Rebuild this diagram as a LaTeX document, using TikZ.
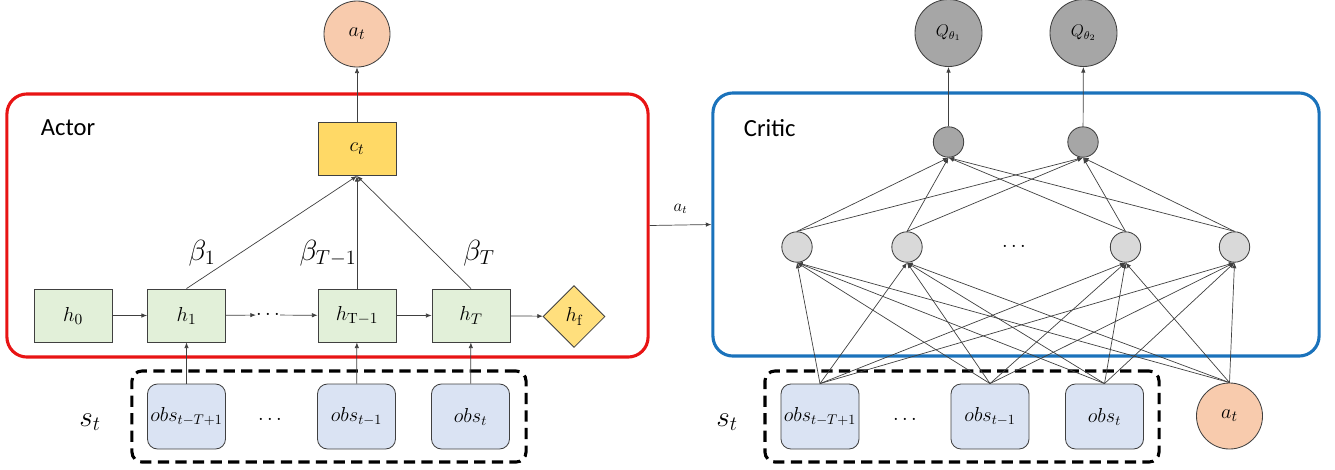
\documentclass[tikz,border=0pt]{standalone}
\usepackage{fontspec}
\setsansfont{Carlito}
\usetikzlibrary{arrows.meta,shapes.geometric}

\definecolor{hgreen}{HTML}{E2F0D9}
\definecolor{cyellow}{HTML}{FFD966}
\definecolor{obsblue}{HTML}{DAE3F3}
\definecolor{aorange}{HTML}{F8CBAD}
\definecolor{actorred}{HTML}{E81414}
\definecolor{criticblue}{HTML}{1A72BB}
\definecolor{qgray}{HTML}{A6A6A6}
\definecolor{ngray}{HTML}{D9D9D9}
\definecolor{edgegray}{HTML}{404040}

\begin{document}
\begin{tikzpicture}[x=0.025cm, y=-0.025cm, >={Latex[length=1.4mm,width=1.1mm]},
        hbox/.style={draw=edgegray, fill=hgreen, line width=0.6pt, inner sep=0pt,
            minimum width=1.95cm, minimum height=1.325cm, font=\fontsize{15}{17}\selectfont},
        obsbox/.style={draw=edgegray, fill=obsblue, line width=0.6pt, inner sep=0pt,
            rounded corners=0.25cm, minimum width=1.95cm, minimum height=1.625cm,
            font=\fontsize{14.5}{16}\selectfont},
        actnode/.style={circle, draw=edgegray, fill=aorange, line width=0.6pt, inner sep=0pt,
            minimum size=1.65cm, font=\fontsize{15}{17}\selectfont},
        qnode/.style={circle, draw=edgegray, fill=qgray, line width=0.6pt, inner sep=0pt,
            minimum size=1.675cm, font=\fontsize{12}{14}\selectfont},
        darkunit/.style={circle, draw=edgegray, fill=qgray, line width=0.6pt, minimum size=0.76cm},
        lightunit/.style={circle, draw=edgegray, fill=ngray, line width=0.6pt, minimum size=0.76cm},
        panel/.style={rounded corners=0.5cm, line width=2.2pt},
        window/.style={draw=black, rounded corners=0.25cm, line width=2.2pt,
            dash pattern=on 8pt off 4.5pt, minimum width=9.85cm, minimum height=2.275cm},
        conn/.style={->, draw=edgegray, line width=0.5pt},
        big/.style={font=\fontsize{20}{22}\selectfont},
        huge/.style={font=\fontsize{22}{24}\selectfont},
        dotsnode/.style={inner sep=0pt, font=\fontsize{15}{17}\selectfont}]

        \useasboundingbox (0,0) rectangle (1335,469);

        % the two boxes
        \node[panel, draw=actorred, minimum width=16.025cm, minimum height=6.575cm]
            (actor) at (327.5,225.5) {};
        \node[panel, draw=criticblue, minimum width=15.15cm, minimum height=6.575cm]
            (critic) at (1016,224.5) {};
        \node[anchor=west, font=\sffamily\fontsize{17.5}{20}\selectfont] (actorlbl) at (36,128) {Actor};
        \node[anchor=west, font=\sffamily\fontsize{17.5}{20}\selectfont] (criticlbl) at (739,128) {Critic};

        % actor
        \node[actnode] (at) at (357,34) {$a_t$};
        \node[hbox, fill=cyellow] (ct) at (357,149) {$c_t$};
        \node[hbox] (h0)  at (73,315.5)  {$h_0$};
        \node[hbox] (h1)  at (186.5,315.5) {$h_1$};
        \node[dotsnode] (hdots) at (268,315) {$\cdots$};
        \node[hbox] (hTm) at (357,315.5) {$h_{\mathrm{T}-1}$};
        \node[hbox] (hT)  at (471,315.5) {$h_T$};
        \node[diamond, draw=edgegray, fill=cyellow!85!white, line width=0.6pt, inner sep=0pt,
            minimum size=1.55cm, font=\fontsize{15}{17}\selectfont] (hf) at (574,316.5) {$h_{\mathrm{f}}$};

        \node[big] (b1)  at (202,253) {$\beta_1$};
        \node[big] (bTm) at (328,253) {$\beta_{T-1}$};
        \node[big] (bT)  at (479,253) {$\beta_T$};

        \draw[conn] (h0) -- (h1);
        \draw[conn] (h1) -- (hdots);
        \draw[conn] (hdots) -- (hTm);
        \draw[conn] (hTm) -- (hT);
        \draw[conn] (hT) -- (hf);
        \draw[conn] (h1.north)  -- (ct.south);
        \draw[conn] (hTm.north) -- (ct.south);
        \draw[conn] (hT.north)  -- (ct.south);
        \draw[conn] (ct) -- (at);

        % actor input window
        \node[window] (winA) at (329,416.5) {};
        \node[huge] (stA) at (90,422) {$s_t$};
        \node[obsbox] (o1) at (186.5,416.5) {$obs_{t-T+1}$};
        \node[dotsnode] (odotsA) at (270,420) {$\cdots$};
        \node[obsbox] (o2) at (356.5,416.5) {$obs_{t-1}$};
        \node[obsbox] (o3) at (470.5,416.5) {$obs_t$};
        \draw[conn] (o1) -- (h1);
        \draw[conn] (o2) -- (hTm);
        \draw[conn] (o3) -- (hT);

        % action passed to the critic
        \draw[conn] (actor.east) -- node[above=1.6mm, font=\fontsize{12}{14}\selectfont] {$a_t$} (critic.west);

        % critic
        \node[qnode] (q1) at (948.5,33) {$Q_{\theta_1}$};
        \node[qnode] (q2) at (1083.5,33) {$Q_{\theta_2}$};
        \node[darkunit] (d1) at (948.5,142) {};
        \node[darkunit] (d2) at (1083,142) {};
        \node[lightunit] (g1) at (797,247) {};
        \node[lightunit] (g2) at (907,247) {};
        \node[dotsnode] (gdots) at (1014,247) {$\cdots$};
        \node[lightunit] (g3) at (1125.5,247) {};
        \node[lightunit] (g4) at (1234.5,247) {};

        \node[window] (winC) at (962,416.5) {};
        \node[huge] (stC) at (727,422) {$s_t$};
        \node[obsbox] (p1) at (820,416.5) {$obs_{t-T+1}$};
        \node[dotsnode] (odotsC) at (905,420) {$\cdots$};
        \node[obsbox] (p2) at (990,416.5) {$obs_{t-1}$};
        \node[obsbox] (p3) at (1104.5,416.5) {$obs_t$};
        \node[actnode] (ain) at (1229.5,416) {$a_t$};

        \foreach \src in {p1,p2,p3,ain}
            \foreach \dst in {g1,g2,g3,g4}
                \draw[conn] (\src.north) -- (\dst.south);
        \foreach \src in {g1,g2,g3,g4}
            \foreach \dst in {d1,d2}
                \draw[conn] (\src.north) -- (\dst.south);
        \draw[conn] (d1) -- (q1);
        \draw[conn] (d2) -- (q2);
    \end{tikzpicture}
\end{document}
